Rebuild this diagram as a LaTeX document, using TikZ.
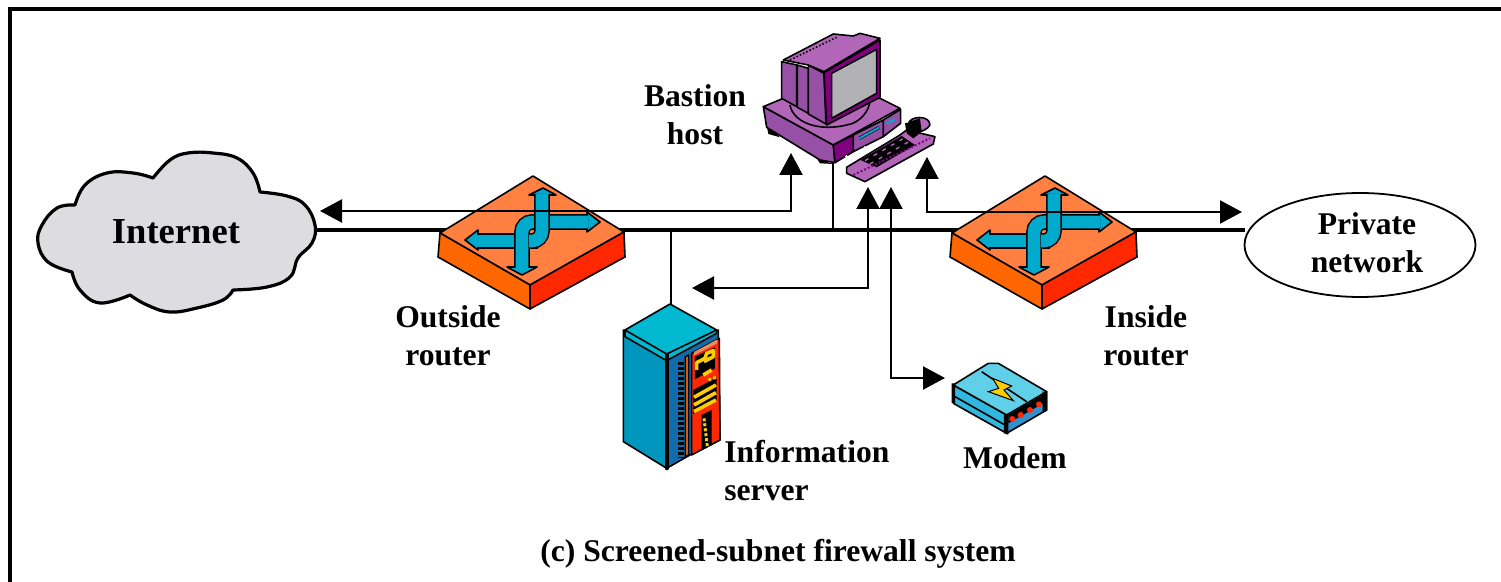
\documentclass[tikz,border=0pt]{standalone}
\usepackage{fontspec}
\setmainfont{Liberation Serif}
\usetikzlibrary{arrows.meta,shapes.geometric}
\definecolor{routertop}{RGB}{255,128,64}
\definecolor{routerleft}{RGB}{255,102,0}
\definecolor{routerright}{RGB}{255,40,0}
\definecolor{routerblue}{RGB}{0,170,205}
\definecolor{cloudgrey}{RGB}{221,220,224}
\definecolor{hostlight}{RGB}{178,102,184}
\definecolor{hostmid}{RGB}{150,80,165}
\definecolor{hostdark}{RGB}{128,0,128}
\definecolor{screengrey}{RGB}{178,178,182}
\definecolor{servertop}{RGB}{0,184,208}
\definecolor{serverleft}{RGB}{0,150,190}
\definecolor{serverdark}{RGB}{16,108,170}
\definecolor{servertan}{RGB}{230,140,100}
\definecolor{modemtop}{RGB}{96,208,232}
\definecolor{modemleft}{RGB}{48,184,224}
\definecolor{modemright}{RGB}{48,144,208}
\definecolor{boltyellow}{RGB}{255,204,0}
\newcommand{\routershaft}[1]{\draw[shaftedge] #1; \draw[shaftfill] #1;}
\tikzset{
	lbl/.style={font=\fontsize{15.8}{19}\selectfont\bfseries,align=center,inner sep=0pt},
	busline/.style={line width=2pt},
	sigline/.style={line width=1.1pt,>={Triangle[length=11pt,width=11.5pt]}},
	dropline/.style={line width=1.1pt},
	edge/.style={draw=black,line width=.8pt,line join=round},
	shaftedge/.style={line width=7.8pt,rounded corners=5pt},
	shaftfill/.style={line width=6.3pt,rounded corners=5pt,draw=routerblue},
	routerbox/.pic={
		\filldraw[edge,fill=routertop] (3,-56)--(94,0)--(0,53)--(-90,1)--cycle;
		\filldraw[edge,fill=routerleft] (-90,1)--(0,53)--(0,77)--(-92,25)--cycle;
		\filldraw[edge,fill=routerright] (0,53)--(94,0)--(95,25)--(0,77)--cycle;
		\filldraw[edge,fill=routerblue] (-65,8)--(-52,-2)--(-52,18)--cycle;
		\routershaft{(-53,9)--(8,9)}
		\filldraw[edge,fill=routerblue] (-8,43)--(-23,35)--(7,35)--cycle;
		\filldraw[edge,fill=routerblue] (70,-10)--(57,-20)--(57,0)--cycle;
		\routershaft{(-8,36)--(-8,-10)--(58,-10)}
		\filldraw[edge,fill=routerblue] (13,-44)--(-1,-37)--(26,-37)--cycle;
		\routershaft{(12,-38)--(12,9)--(-1,9)}
	}
}
\begin{document}
\begin{tikzpicture}[x = .5pt, y = -.5pt]
	\useasboundingbox (0,0) rectangle (1501,582);
	\draw[line width=2pt] (10,582)--(10,9)--(1501,9);
	% cloud
	\filldraw[fill=cloudgrey,line width=1.6pt,line join=round]
		plot[smooth,tension=.7] coordinates {(260,192) (287,196) (305,205) (315,225) (312,243) (298,258) (290,277) (267,287) (233,290)}
		-- plot[smooth,tension=.7] coordinates {(233,290) (223,300) (197,308) (170,312) (147,305) (130,295)}
		-- plot[smooth,tension=.7] coordinates {(130,295) (100,303) (80,290) (72,272)}
		-- plot[smooth,tension=.7] coordinates {(72,272) (48,262) (38,243) (42,225) (57,208) (75,205)}
		-- plot[smooth,tension=.7] coordinates {(75,205) (85,185) (107,173) (133,173) (153,178)}
		-- plot[smooth,tension=.7] coordinates {(153,178) (170,160) (188,153) (213,153) (237,158) (253,173) (260,192)} -- cycle;
	\node[lbl,font=\fontsize{18.3}{22}\selectfont\bfseries] (internet) at (176,232) {Internet};
	\node[ellipse,draw,line width=.9pt,minimum width=115.5pt,minimum height=52pt,inner sep=0pt] (privatenet) at (1360,245) {};
	\node[lbl] (privatelbl) at (1367,243) {Private\\network};
	\coordinate (cloudE) at (316,230);
	\coordinate (busE) at (1245,230);
	\coordinate (bastionFoot) at (833,163);
	\coordinate (serverTop) at (671,304);
	\draw[busline] (cloudE)--(busE);
	\draw[dropline] (bastionFoot)--(bastionFoot |- cloudE);
	\draw[dropline] (serverTop)--(serverTop |- cloudE);
	\pic at (530,232) {routerbox};
	\pic at (1042,232) {routerbox};
	% arrows
	\coordinate (outerTip) at (320,211);
	\coordinate (bastionTip) at (791,153);
	\coordinate (innerTip) at (927,157);
	\coordinate (privateTip) at (1242,212);
	\coordinate (serverUp) at (868,187);
	\coordinate (serverTip) at (692,288);
	\coordinate (modemUp) at (891,187);
	\coordinate (modemTip) at (945,378);
	\draw[<->,sigline] (outerTip) -| (bastionTip);
	\draw[<->,sigline] (innerTip) |- (privateTip);
	\draw[<->,sigline] (serverUp) |- (serverTip);
	\draw[<->,sigline] (modemUp) |- (modemTip);
	% bastion host
	\begin{scope}[shift={(620,10)},scale=.3333]
		\fill[black] (440,345)--(480,382)--(445,372)--cycle;
		\fill[black] (590,445)--(640,462)--(600,460)--cycle;
		\filldraw[edge,fill=hostmid] (430,290)--(640,405)--(645,458)--(600,450)--(440,352)--cycle;
		\filldraw[edge,fill=hostlight] (430,290)--(490,265)--(780,265)--(840,295)--(640,405)--cycle;
		\filldraw[edge,fill=hostdark] (640,405)--(700,375)--(700,425)--(645,458)--cycle;
		\filldraw[edge,fill=hostmid] (700,375)--(790,330)--(790,380)--(700,425)--cycle;
		\filldraw[edge,fill=hostmid] (790,330)--(842,298)--(842,340)--(790,380)--cycle;
		\draw[line width=1.6pt,black] (718,385)--(778,352);
		\draw[line width=1pt,routerblue] (718,385)--(778,352);
		\draw[line width=1pt,routerblue] (800,340)--(825,328);
		\draw[edge] (510,285) .. controls (520,340) and (600,365) .. (680,345);
		\draw[edge] (680,345) .. controls (720,340) and (750,300) .. (750,270);
		\filldraw[edge,fill=hostmid] (485,155)--(530,165)--(530,290)--(485,265)--cycle;
		\filldraw[edge,fill=hostmid] (532,165)--(565,175)--(565,310)--(532,292)--cycle;
		\filldraw[edge,fill=hostmid] (565,165)--(612,190)--(618,342)--(565,312)--cycle;
		\filldraw[edge,fill=hostlight] (490,150)--(640,72)--(700,78)--(720,70)--(780,85)--(612,185)--(565,165)--cycle;
		\draw[edge,densely dotted] (510,150)--(650,82);
		\filldraw[edge,fill=hostdark] (612,188)--(780,90)--(780,262)--(620,345)--cycle;
		\filldraw[edge,fill=screengrey] (635,190)--(770,118)--(770,250)--(635,325)--cycle;
		% keyboard
		\filldraw[edge,fill=hostlight] (680,472)--(840,375)--(860,360)--(945,380)--(940,402)--(735,515)--(680,490)--cycle;
		\fill[black] (722,450)--(845,378)--(885,405)--(770,472)--cycle;
		\draw[hostlight,line width=.7pt,dash pattern=on 2pt off 3pt] (735,452)--(848,387) (750,462)--(865,396);
		\draw[hostdark,line width=1pt,densely dotted] (700,495)--(930,385);
		\fill[white] (680,440) circle (5) (698,437) circle (5) (735,412) circle (4);
		\filldraw[edge,fill=hostlight] (862,345) .. controls (870,315) and (930,315) .. (930,345) .. controls (915,370) and (870,375) .. (862,345)--cycle;
		\fill[black] (855,340)--(900,325)--(905,365)--(880,385)--(860,370)--cycle;
		\fill[white] (862,335) circle (4);
	\end{scope}
	% information server
	\begin{scope}[shift={(600,290)},scale=.3333]
		\filldraw[edge,fill=serverleft] (70,120)--(200,200)--(200,535)--(70,455)--cycle;
		\filldraw[edge,fill=serverdark] (200,195)--(355,120)--(360,450)--(270,495)--(200,535)--cycle;
		\filldraw[edge,fill=servertop] (75,140)--(75,120)--(350,120)--(350,130)--(200,212)--cycle;
		\filldraw[edge,fill=servertop] (75,120)--(210,42)--(350,120)--(200,192)--cycle;
		\draw[line width=2pt,line cap=round] (200,195)--(200,535);
		\draw[black,line width=2.6pt,dash pattern=on 1.5pt off 1pt] (243,215)--(243,505);
		\filldraw[edge,fill=routerleft] (256,200)--(266,195)--(266,495)--(256,500)--cycle;
		\filldraw[edge,fill=routerright] (275,190)--(358,145)--(360,450)--(275,495)--cycle;
		\fill[servertan] (282,186)--(352,148)--(352,160)--(282,196)--cycle;
		\fill[black] (285,200)--(345,172)--(345,235)--(285,268)--cycle;
		\fill[black] (280,300)--(350,262)--(350,335)--(280,372)--cycle;
		\fill[black] (305,375)--(335,360)--(335,465)--(305,480)--cycle;
		\draw[boltyellow,line width=1.8pt,line join=round] (290,240)--(290,218)--(315,205)--(320,190)--(340,182)--(340,200)--(312,215) (310,255)--(335,240) (282,322)--(348,285) (282,345)--(348,308) (282,365)--(348,330);
		\draw[boltyellow,line width=1.5pt,dash pattern=on 1.5pt off 1pt] (312,385)--(322,470) (325,270)--(348,262);
	\end{scope}
	% modem
	\begin{scope}[shift={(900,340)},scale=.3333]
		\filldraw[edge,fill=modemleft] (160,135)--(320,225)--(320,280)--(160,190)--cycle;
		\draw[edge] (165,170)--(315,255);
		\filldraw[edge,fill=modemright] (320,225)--(440,155)--(440,210)--(320,280)--cycle;
		\filldraw[edge,fill=modemtop] (160,135)--(265,70)--(295,70)--(440,155)--(320,225)--cycle;
		\draw[edge] (245,95)--(380,185);
		\fill[black] (155,130)--(165,130)--(165,192)--(155,188)--cycle;
		\fill[black] (312,222)--(325,222)--(325,284)--(312,280)--cycle;
		\fill[black] (325,225)--(438,160)--(438,185)--(325,250)--cycle;
		\fill[black] (428,155)--(442,155)--(442,212)--(428,218)--cycle;
		\filldraw[black,fill=boltyellow,line width=.5pt] (278,115)--(335,138)--(312,150)--(340,182)--(265,155)--(296,145)--cycle;
		\fill[routerright] (337,237) circle (9) (362,225) circle (9) (390,210) circle (9) (417,193) circle (9);
	\end{scope}
	% labels
	\node[lbl] (bastionlbl) at (695,115) {Bastion\\host};
	\node[lbl] (outsidelbl) at (448,336) {Outside\\router};
	\node[lbl] (insidelbl) at (1146,336) {Inside\\router};
	\node[lbl,align=left,anchor=west] (infolbl) at (724,471) {Information\\server};
	\node[lbl] (modemlbl) at (1015,458) {Modem};
	\node[lbl] (captionlbl) at (778,554) {(c) Screened-subnet firewall system};
\end{tikzpicture}
\end{document}
